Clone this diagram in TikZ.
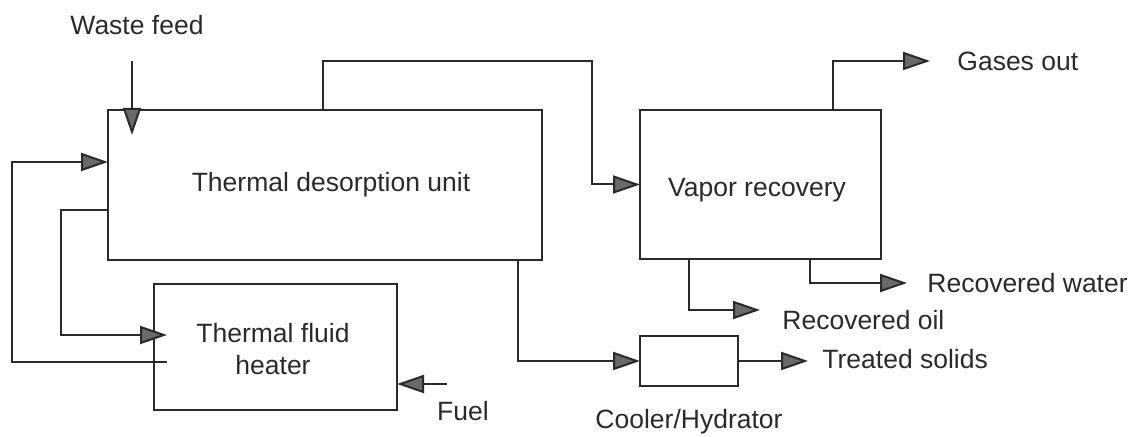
\documentclass[tikz,border=0pt]{standalone}
\usepackage{fontspec}
\setmainfont{Liberation Sans}
\usetikzlibrary{arrows.meta}
\definecolor{ink}{HTML}{2A2A2A}
\definecolor{headfill}{HTML}{6A6A6A}
\tikzset{
  unit/.style={draw=ink, line width=1pt, inner sep=0pt, outer sep=0pt, align=center},
  flow/.style={draw=ink, line width=1pt, -{Triangle[length=13.5pt,width=9pt,fill=headfill]}},
  pipe/.style={draw=ink, line width=1pt},
  lbl/.style={inner sep=0pt, text=ink},
}
\begin{document}
\begin{tikzpicture}[x=0.5pt, y=-0.5pt, font=\fontsize{13.25}{16}\selectfont]
\useasboundingbox (0,0) rectangle (1135,437);

% units
\node[unit, minimum width=217pt, minimum height=75pt] (tdu) at (325,185) {};
\node[lbl] (tdutxt) at (331,185) {Thermal desorption unit};
\node[unit, minimum width=120.5pt, minimum height=74.5pt] (vr) at (760.5,184.5) {};
\node[lbl] (vrtxt) at (757,190) {Vapor recovery};
\node[unit, minimum width=121.5pt, minimum height=63pt] (tfh) at (275.5,347) {};
\node[lbl, align=center] (tfhtxt) at (273,349) {Thermal fluid\\heater};
\node[unit, minimum width=49pt, minimum height=25pt] (cool) at (689,361) {};

% labels
\node[lbl] (wastetxt) at (137,25) {Waste feed};
\node[lbl, anchor=west] (gastxt) at (957,61) {Gases out};
\node[lbl, anchor=west] (watertxt) at (927,283) {Recovered water};
\node[lbl, anchor=west] (oiltxt) at (782,320) {Recovered oil};
\node[lbl, anchor=west] (soltxt) at (822,359) {Treated solids};
\node[lbl] (cooltxt) at (689,422) {Cooler/Hydrator};
\node[lbl] (fueltxt) at (463,411) {Fuel};

% coordinates
\coordinate (wf) at (132,61);
\coordinate (c1) at (323,61);
\coordinate (c2) at (592,61);
\coordinate (g1) at (833,61);
\coordinate (gout) at (930,61);
\coordinate (w1) at (810,283);
\coordinate (wout) at (907,283);
\coordinate (o1) at (689,310);
\coordinate (oout) at (760,310);
\coordinate (s1) at (518,361);
\coordinate (tout) at (808,361);
\coordinate (l0) at (167,362);
\coordinate (l1) at (12,362);
\coordinate (l2) at (12,162);
\coordinate (i1) at (61,210);
\coordinate (i2) at (61,335);
\coordinate (f1) at (447,384);

% connectors
\draw[flow, shorten >=-12.5pt] (wf) -- (wf |- tdu.north);
\draw[flow] (c1 |- tdu.north) -- (c1) -- (c2) -- (c2 |- vr.west) -- (vr.west);
\draw[flow] (g1 |- vr.north) -- (g1) -- (gout);
\draw[flow] (w1 |- vr.south) -- (w1) -- (wout);
\draw[flow] (o1 |- vr.south) -- (o1) -- (oout);
\draw[flow] (s1 |- tdu.south) -- (s1) -- (cool.west);
\draw[flow] (cool.east) -- (tout);
\draw[flow] (l0) -- (l1) -- (l2) -- (l2 -| tdu.west);
\draw[flow, shorten >=-6.5pt] (i1 -| tdu.west) -- (i1) -- (i2) -- (i2 -| tfh.west);
\draw[flow] (f1) -- (f1 -| tfh.east);
\end{tikzpicture}
\end{document}
